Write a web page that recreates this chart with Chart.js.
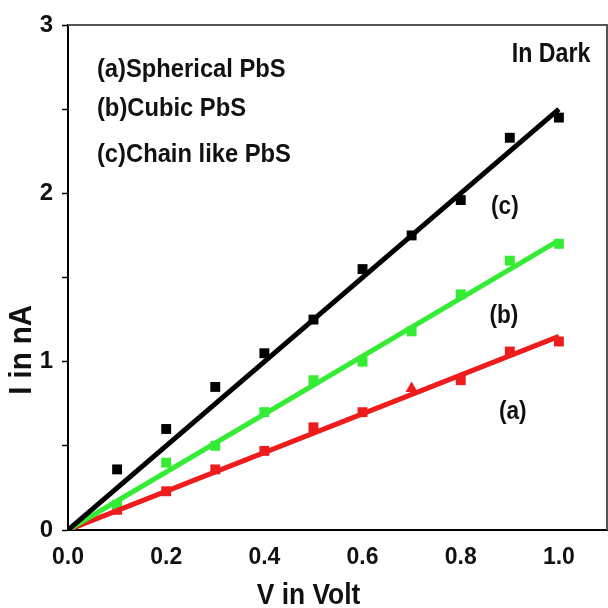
<!DOCTYPE html>
<html>
<head>
<meta charset="utf-8">
<script src="https://cdn.jsdelivr.net/npm/chart.js@4.4.1/dist/chart.umd.min.js"></script>
<style>
  html, body { margin: 0; padding: 0; background: #fff; }
  #wrap { width: 608px; height: 608px; }
</style>
</head>
<body>
<div id="wrap"><canvas id="c" width="608" height="608"></canvas></div>
<script>
// ---- data ----
const voltages = [0.1, 0.2, 0.3, 0.4, 0.5, 0.6, 0.7, 0.8, 0.9, 1.0];
const currentA = [0.12, 0.23, 0.36, 0.47, 0.61, 0.70, 0.84, 0.89, 1.06, 1.12]; // (a) Spherical PbS
const currentB = [0.15, 0.40, 0.50, 0.70, 0.89, 1.00, 1.18, 1.40, 1.60, 1.70]; // (b) Cubic PbS
const currentC = [0.36, 0.60, 0.85, 1.05, 1.25, 1.55, 1.75, 1.96, 2.33, 2.45]; // (c) Chain like PbS
const fitV = [0.0, 1.0];
const fitA = [0.0, 1.15];
const fitB = [0.0, 1.72];
const fitC = [0.0, 2.50];
const stylesA = ['rect','rect','rect','rect','rect','rect','triangle','rect','rect','rect'];
const xTickValues = [0, 0.2, 0.4, 0.6, 0.8, 1.0];
const yTickValues = [0, 0.5, 1, 1.5, 2, 2.5, 3];
const legendLines = ['(a)Spherical PbS', '(b)Cubic PbS', '(c)Chain like PbS'];
const legendLevels = [2.732, 2.50, 2.226];
const noteText = 'In Dark';
const curveTags = [
  { text: '(c)', v: 0.890, i: 1.917 },
  { text: '(b)', v: 0.888, i: 1.274 },
  { text: '(a)', v: 0.906, i: 0.702 }
];
const xTitle = 'V in Volt';
const yTitle = 'I in nA';

const FONT = "'Liberation Sans', Arial, sans-serif";
const BLACK = '#000000', GREEN = '#33ec33', RED = '#ee1c1c';

const pts = (xs, ys) => xs.map((x, k) => ({ x: x, y: ys[k] }));

// draw bold text, squeezed horizontally (along the text direction)
function narrowText(ctx, text, px, py, align, size, squeeze, angle) {
  ctx.save();
  ctx.font = "bold " + size + "px " + FONT;
  ctx.fillStyle = '#111';
  ctx.textBaseline = 'middle';
  ctx.textAlign = align;
  ctx.translate(px, py);
  if (angle) ctx.rotate(angle);
  ctx.scale(squeeze, 1);
  ctx.fillText(text, 0, 0);
  ctx.restore();
}

const frame = {
  id: 'frame',
  afterDatasetsDraw(chart) {
    const { ctx, chartArea: a } = chart;
    ctx.save();
    ctx.strokeStyle = '#555';
    ctx.lineWidth = 2;
    ctx.beginPath();
    ctx.moveTo(a.left, a.top);
    ctx.lineTo(a.right - 1, a.top);
    ctx.lineTo(a.right - 1, a.bottom);
    ctx.stroke();
    ctx.restore();
  },
  afterDraw(chart) {
    const { ctx, scales: { x, y } } = chart;
    legendLines.forEach((t, k) => narrowText(ctx, t, x.getPixelForValue(0.059), y.getPixelForValue(legendLevels[k]), 'left', 25, 0.95));
    narrowText(ctx, noteText, x.getPixelForValue(0.984), y.getPixelForValue(2.827), 'center', 27, 0.86);
    curveTags.forEach(t => narrowText(ctx, t.text, x.getPixelForValue(t.v), y.getPixelForValue(t.i), 'center', 26, 0.87));
    // axis titles
    narrowText(ctx, xTitle, x.getPixelForValue(0.49), chart.height - 12, 'center', 30, 0.88);
    narrowText(ctx, yTitle, 22, y.getPixelForValue(1.07), 'center', 31, 0.95, -Math.PI / 2);
  }
};

new Chart(document.getElementById('c'), {
  type: 'scatter',
  data: {
    datasets: [
      { type: 'line', data: pts(fitV, fitC), borderColor: BLACK, borderWidth: 5, pointRadius: 0, fill: false },
      { type: 'line', data: pts(fitV, fitB), borderColor: GREEN, borderWidth: 5, pointRadius: 0, fill: false },
      { type: 'line', data: pts(fitV, fitA), borderColor: RED, borderWidth: 5, pointRadius: 0, fill: false },
      { data: pts(voltages, currentC), backgroundColor: BLACK, borderColor: BLACK, borderWidth: 0, pointStyle: 'rect', pointRadius: 7 },
      { data: pts(voltages, currentB), backgroundColor: GREEN, borderColor: GREEN, borderWidth: 0, pointStyle: 'rect', pointRadius: 7 },
      { data: pts(voltages, currentA), backgroundColor: RED, borderColor: RED, borderWidth: 0, pointStyle: stylesA, pointRadius: 7 }
    ]
  },
  options: {
    responsive: false,
    animation: false,
    events: [],
    layout: { autoPadding: false, padding: { top: 25, right: 0, left: 0, bottom: 0 } },
    plugins: { legend: { display: false }, tooltip: { enabled: false } },
    scales: {
      x: {
        type: 'linear', min: 0, max: 1.1,
        afterFit(s) { s.height = 78; s.paddingLeft = 0; s.paddingRight = 0; },
        grid: { display: true, drawOnChartArea: false, drawTicks: false },
        border: { display: true, color: '#000', width: 2 },
        afterBuildTicks(s) { s.ticks = xTickValues.map(v => ({ value: v })); },
        ticks: {
          padding: 14, color: '#111',
          font: { family: FONT, size: 23, weight: 'bold' },
          callback: v => v.toFixed(1)
        },
        title: { display: false }
      },
      y: {
        type: 'linear', min: 0, max: 3,
        afterFit(s) { s.width = 68; s.paddingTop = 0; s.paddingBottom = 0; },
        afterBuildTicks(s) { s.ticks = yTickValues.map(v => ({ value: v })); },
        grid: { display: true, drawOnChartArea: false, drawTicks: true, tickLength: 6, tickColor: '#000', tickWidth: 1.5 },
        border: { display: true, color: '#000', width: 2 },
        ticks: {
          padding: 9, color: '#111',
          font: { family: FONT, size: 24, weight: 'bold' },
          callback: v => (Number.isInteger(v) ? String(v) : '')
        },
        title: { display: false }
      }
    }
  },
  plugins: [frame]
});
</script>
</body>
</html>
